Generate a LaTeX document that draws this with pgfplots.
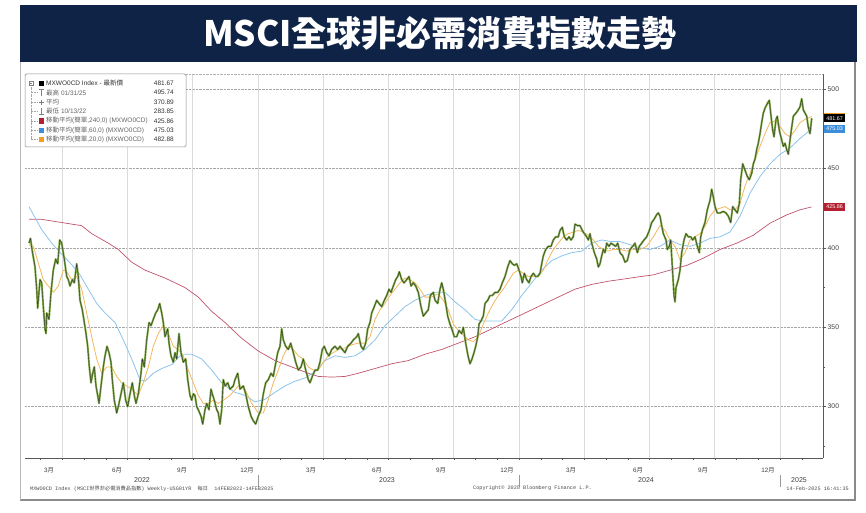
\documentclass[border=0pt]{standalone}
\usepackage{pgfplots}
\pgfplotsset{compat=1.18}
\usepackage{fontspec}
\setmainfont{Liberation Sans}
\newfontfamily\cjk{Noto Sans CJK TC}
\newfontfamily\monof{Liberation Mono}
\newcommand{\fs}[1]{\fontsize{#1}{#1}\selectfont}
\definecolor{navy}{HTML}{0F2346}
\definecolor{pricegreen}{HTML}{7AA63E}
\definecolor{mared}{HTML}{C2546B}
\definecolor{mablue}{HTML}{8CC4EC}
\definecolor{maorange}{HTML}{F4B860}
\definecolor{boxred}{HTML}{B3202F}
\definecolor{boxblue}{HTML}{3C8EDB}
\definecolor{boxorange}{HTML}{F39C1F}
\definecolor{frame}{HTML}{8A8A8A}

\pgfplotstableread{
x y
29 403
30.5 406
32 399
35 388
36.7 374
37.7 362
40 380
41.7 378
43.3 363
45 349
46 346
46.7 359
49 355
51 372
53.3 386
55.7 393
57.7 390
59.7 405
61.7 403
64.3 393
66.7 382
68.3 380
70 376
72.3 380
74.3 378
76.7 390
78.3 382
80 367
82.3 361
84.3 353
86 346
87.7 338
89.3 325
91 315
92.7 321
94.3 325
96 313
97.7 307
99 302
101 313
103.3 325
105 332
107 338
109 334
111 328
112.3 317
114.3 304
116.7 296
118.3 300
121 308
123.3 315
125.7 304
127.7 300
130 308
132.3 315
134.3 307
136 302
138.3 308
141 321
142.3 330
144.3 325
146.7 342
149 353
151 351
153.3 355
155.7 359
157.7 361
159.7 365
161.7 359
163.3 353
165 344
167.7 349
169 340
171 332
173.3 328
175 334
176.7 330
179 346
181 334
183.3 328
185.7 330
187.7 317
190 307
191.7 304
193.3 308
195 307
196.7 300
198.3 298
201 294
202.7 289
205 298
206.7 302
209 298
211 311
212.3 308
214.3 304
216.7 298
218.3 296
220 289
221.7 298
223.3 317
225 313
227.7 315
230 311
233.3 313
235 317
237.7 321
240 311
243.3 313
245.7 308
248.3 300
251 294
253.3 291
255.7 289
258.3 294
261 298
263.3 308
265.7 315
268.3 317
271 321
273.3 319
275 325
277.7 334
280 338
281.7 349
283.3 342
285.7 338
288.3 336
290.7 340
293.3 334
295.7 328
298.3 323
301 325
303.3 330
305.7 323
308.3 317
310 315
312.3 319
315 323
317.7 323
320 328
322.3 336
324.3 338
326.7 334
329 332
331.7 336
335 338
337.7 336
340 338
342.3 336
345 334
347.7 338
351 340
353.3 342
356.7 344
358.3 346
361 338
363.3 336
365.7 340
367.7 349
370 353
371.7 359
374.3 363
376.7 367
379 365
381.7 363
384.3 367
386.7 370
389 374
391 372
393.3 376
395.7 380
397.7 382
399.3 385
401.7 380
404 378
406.7 380
409 382
411 376
413.3 378
415.7 376
418.3 372
421 363
423.3 357
425.7 359
428.3 361
430.3 370
433.3 372
435 367
437.7 365
440 374
441.7 378
443.3 374
445.7 365
447.7 357
450 352
452.3 348
454.3 344
456.7 344
459 348
461.7 346
463.3 350
465.7 340
468 332
470 327
472 330
474 334
475.7 338
477.7 344
479 352
481 354
483.3 357
485 365
487.7 367
490 370
492.3 370
495 372
497.7 372
500 374
502.3 378
505 382
507.7 388
510 392
512.3 390
514.3 389
516.7 390
519 386
521 382
522.3 378
524.3 384
526.7 380
529 378
531 382
533.3 384
535.7 382
537.7 382
540 384
541.7 390
543.3 395
545.7 399
548.3 401
551 401
553.3 405
555.7 407
558.3 407
560 411
562.3 413
564.3 407
566.7 405
569 407
571 405
573.3 407
575 415
577.7 414
580 414
582.3 411
584.3 409
586.7 407
588.3 405
590 409
591.7 403
594.3 397
596.7 393
598.3 388
600 390
601.7 395
603.3 399
605 397
606.7 403
609 401
611 403
613.3 402
615.7 401
617.7 403
620 397
622.7 395
625 391
627.3 392
630 399
632.7 401
635 403
637.3 397
639.3 401
641.7 403
644 405
646.7 407
649.3 411
651.7 416
654 418
656.7 421
658.3 422
660 420
661.7 414
663.3 409
666 405
667.3 399
669.3 401
670.7 405
672.7 384
674 370
675 366
676 375
678.3 380
680 386
681.7 397
684 405
686 409
688.3 407
690.7 407
692.7 405
695 407
697.3 401
699.3 397
700.7 407
702.7 412
705 416
707.3 424
710 430
711.7 437
713.3 432
715 426
717.3 422
720 422
723.3 423
726 422
728.3 420
730.7 416
732.7 426
735 424
737.3 422
739.3 428
740.7 443
742.7 453
745 449
747.3 445
749.3 443
751.7 447
753.3 453
755 456
756.7 462
758.3 466
760 472
761.7 479
763.3 485
765 488
767.3 491
769.3 493
770.7 485
772.7 474
774 470
776 481
777.3 483
779.3 474
781.7 468
783.3 464
785 466
786.7 462
788.3 459
790 468
791.7 476
793.3 483
796 485
798.3 487
800 489
801.7 494
803.3 487
805 485
806.7 483
808.3 476
810 472
811.7 481.67
}\price

\pgfplotstableread{
x y
29 418
41.7 418
61.7 416
81.7 414
91.7 409
108.3 403
118.3 399
131.7 391
145 386
165 381
185 375
198.3 369
211.7 360
225 353
241.7 343
258.3 335
275 329
291.7 325
308.3 321
318.3 319
331.7 318.6
345 319
358.3 321
375 324
391.7 327
408.3 329
425 333
441.7 336
458.3 340
475 344
491.7 349
508.3 354
525 359
541.7 364
558.3 369
575 374
591.7 377
608.3 379
625 380.5
636.7 381.6
653.3 383
670 386
686.7 389
703.3 393.5
720 399
736.7 403
753.3 408
770 415.6
786.7 420.8
800 424
811.7 425.86
}\maA

\pgfplotstableread{
x y
29 426
41.7 411.5
51.7 403
61.7 396
71.7 389.5
80 383
88.3 374
96.7 365
105 359
115 353
123.3 342
131.7 330
140 317
145 316
153.3 321
161.7 324
171.7 326.5
181.7 333
191.7 333
201.7 330
211.7 323
221.7 315
230 311
235 309
245 307
255 303
265 304.6
275 309
285 313
295 316
305 318
315 322
325 329
335 332
345 331
355 332
365 336
375 342
385 351
395 357
405 363
415 367
425 370
435 372
445 372
455 366
465 361
475 355
481.7 354
491.7 354
501.7 354
511.7 361
521.7 370
531.7 378
541.7 386
551.7 392
561.7 395
571.7 397
581.7 398
591.7 403
601.7 405
611.7 404
620 404
630 402
640 400
650 399
660 401
670 405
680 402
690 401
700 403
710 406
720 407
730 410
740 420
750 434.5
760 445
770 453
780 459
790 463
800 469
811.7 475.03
}\maB

\pgfplotstableread{
x y
29 402
33.3 401
38.3 390.5
43.3 380
48.3 376
53.3 372
58.3 376
63.3 386
66.7 385
71.7 380
76.7 382
81.7 374
86.7 359
91.7 344
96.7 330
101.7 321
106.7 325
111.7 325
116.7 319
121.7 315
126.7 313
131.7 311
138.3 307
143.3 315
148.3 325
153.3 338
158.3 346
163.3 351
168.3 346
173.3 338
178.3 336
183.3 332
188.3 323
193.3 315
198.3 307
203.3 302
208.3 302
213.3 304
218.3 302
223.3 304
230 307
238.3 313
245 311
251.7 302
258.3 296
263.3 296
268.3 304.5
273.3 315
278.3 323
283.3 332
288.3 338
293.3 336
298.3 332
303.3 330
308.3 325
313.3 323
318.3 323
323.3 328
328.3 332
333.3 334
338.3 336
345 337
351.7 339
358.3 340
365 340
370 344
375 355
380 361
385 365
390 370
395 374
400 378
405 381
410 380
415 378
420 374
425 369
431 369
438 371
443.3 367
448.3 361
453.3 352
458.3 348
463.3 345
468.3 342
473.3 341
478.3 344
483.3 352
488.3 359
493.3 365
498.3 370
503.3 374
508.3 379
513.3 384
518.3 386
523.3 384
528.3 382
533.3 382
538.3 382
543.3 386
548.3 393
553.3 399
558.3 403
563.3 407
568.3 409
573.3 410
578.3 411
583.3 410
588.3 408
593.3 405
598.3 401
603.3 399
608.3 398
613.3 399
620 399
626.7 398
633.3 399
640 399
646.7 401
653.3 407
660 414
665 411
670 405
675 401
680 392.5
685 397
690 405
695 407
700 409
705 413.5
710 420
715 424
720 425
725 426
730 424
735 424
740 428
745 439
750 447
755 455.5
760 464
765 472
770 479
775 480
780 476.5
785 472
790 470
795 474
800 479
805 481
811.7 482.88
}\maC

\begin{document}
\begin{tikzpicture}[x=1pt,y=1pt]
\path[use as bounding box, fill=white] (0,0) rectangle (866,512);
% banner
\fill[navy] (20,450) rectangle (857,507);
\node[text=white, font=\cjk\bfseries\fs{35}] at (440,479) {MSCI全球非必需消費指數走勢};
% frame
\draw[frame, line width=1.6pt] (20,12) -- (855,12) -- (855,450);
\draw[frame!60, line width=0.8pt] (20,12) -- (20,450);

\begin{axis}[
  at={(25pt,54pt)}, anchor=south west,
  scale only axis, width=798pt, height=384pt,
  xmin=25, xmax=823, ymin=267.6, ymax=509.6,
  axis x line*=bottom, axis y line*=right,
  axis line style={black!65, line width=0.5pt},
  clip=false,
  tick align=outside,
  tick style={black!65, line width=0.5pt},
  major tick length=3pt, minor tick length=2.2pt,
  ytick={300,350,400,450,500},
  minor ytick={275,325,375,425,475},
  yticklabel style={font=\fs{6.8}, text=black!75, inner sep=1.5pt},
  /pgf/number format/assume math mode=true,
  ymajorgrids, major grid style={densely dotted, black!35, line width=0.45pt},
  xtick={49,117,182,247,311,377,441,507,571,638,703,768},
  xticklabels={3{\cjk 月},6{\cjk 月},9{\cjk 月},12{\cjk 月},3{\cjk 月},6{\cjk 月},9{\cjk 月},12{\cjk 月},3{\cjk 月},6{\cjk 月},9{\cjk 月},12{\cjk 月}},
  major x tick style={draw=none},
  xticklabel style={font=\fs{6.3}, text=black!75, inner sep=1pt, yshift=-5pt},
  minor xtick={40.5,62.25,84,105.75,127.5,149.25,171,192.75,214.5,236.25,258,279.75,301.5,323.25,345,366.75,388.5,410.25,432,453.75,475.5,497.25,519,540.75,562.5,584.25,606,627.75,649.5,671.25,693,714.75,736.5,758.25,780,801.75},
  extra x ticks={62.25,127.5,192.75,258,323.25,388.5,453.75,519,584.25,649.5,714.75,780},
  extra x tick labels={},
  extra x tick style={grid=major, major grid style={solid, black!14, line width=0.6pt}, major tick length=0pt},
]
\addplot[mared, line width=0.7pt] table {\maA};
\addplot[mablue, line width=0.8pt] table {\maB};
\addplot[maorange, line width=0.8pt] table {\maC};
\addplot[pricegreen, line width=1.9pt, line join=round] table {\price};
\addplot[black!80, line width=0.4pt, line join=round] table {\price};
\draw[densely dotted, black!30] (rel axis cs:0,1) -- (rel axis cs:1,1);
% value boxes
\node[fill=boxorange, anchor=west, inner sep=0pt, minimum width=20.8pt, minimum height=7.7pt] at (axis cs:824,482.88) {};
\node[fill=black, text=white, anchor=west, font=\fs{5.4}, inner xsep=2.2pt, inner ysep=0pt, minimum height=7.7pt] at (axis cs:824,481.67) {481.67};
\node[fill=boxblue, text=white, anchor=west, font=\fs{5.4}, inner xsep=2.2pt, inner ysep=0pt, minimum height=7.7pt] at (axis cs:824,475.03) {475.03};
\node[fill=boxred, text=white, anchor=west, font=\fs{5.4}, inner xsep=2.2pt, inner ysep=0pt, minimum height=7.7pt] at (axis cs:824,425.86) {425.86};
\end{axis}

% year separators and labels
\foreach \xx in {258,519,780} {\draw[black!40, line width=0.5pt] (\xx,25) -- (\xx,37);}
\foreach \xx/\yy in {142/2022,387/2023,646/2024,799/2025} {\node[font=\fs{7}, text=black!75] at (\xx,32) {\yy};}

% footer
\node[anchor=west, font=\monof\fs{5.2}, text=black!70, inner sep=0] at (30,23.5) {MXWO0CD Index (MSCI{\cjk 世界非必需消費品指數}) Weekly-USG01YR \ {\cjk 每日} \ 14FEB2022-14FEB2025};
\node[anchor=west, font=\monof\fs{5.2}, text=black!70, inner sep=0] at (473,23.5) {Copyright© 2025 Bloomberg Finance L.P.};
\node[anchor=east, font=\monof\fs{5.2}, text=black!70, inner sep=0] at (849,23.5) {14-Feb-2025 16:41:35};

% legend
\draw[black!45, fill=white, rounded corners=1.5pt, line width=0.5pt] (25,438) rectangle (186,365);
\draw[black!35, densely dotted] (31,426.7) -- (31,372.3);
\foreach \yy in {419.3,409.9,400.5,391.1,381.7,372.3} {\draw[black!35, densely dotted] (31,\yy) -- (37,\yy);}
\draw[black!50, fill=white] (29,426.7) rectangle (33,430.7);
\draw[black!50] (29.8,428.7) -- (32.2,428.7);
\fill[black] (38.5,425.9) rectangle (44,431.4);
\draw[black!50] (39,422.3) -- (44,422.3) (41.5,422.3) -- (41.5,416.3);
\draw[black!50] (39,409.9) -- (44,409.9) (41.5,407.4) -- (41.5,412.4);
\draw[black!50] (41.5,403.5) -- (41.5,397.5) (39,397.5) -- (44,397.5);
\fill[boxred] (38.5,388.35) rectangle (44,393.85);
\fill[boxblue] (38.5,378.95) rectangle (44,384.45);
\fill[boxorange] (38.5,369.55) rectangle (44,375.05);
\begin{scope}[every node/.style={inner sep=0, font=\fs{6.5}, text=black!80}]
\node[anchor=west] at (46,428.7) {MXWO0CD Index - {\cjk 最新價}};
\node[anchor=west, text=black!60] at (46,419.3) {{\cjk 最高} 01/31/25};
\node[anchor=west, text=black!60] at (46,409.9) {{\cjk 平均}};
\node[anchor=west, text=black!60] at (46,400.5) {{\cjk 最低} 10/13/22};
\node[anchor=west, text=black!60] at (46,391.1) {{\cjk 移動平均}({\cjk 簡單},240,0) (MXWO0CD)};
\node[anchor=west, text=black!60] at (46,381.7) {{\cjk 移動平均}({\cjk 簡單},60,0) (MXWO0CD)};
\node[anchor=west, text=black!60] at (46,372.3) {{\cjk 移動平均}({\cjk 簡單},20,0) (MXWO0CD)};
\node[anchor=east] at (174,428.7) {481.67};
\node[anchor=east] at (174,419.3) {495.74};
\node[anchor=east] at (174,409.9) {370.89};
\node[anchor=east] at (174,400.5) {283.85};
\node[anchor=east] at (174,391.1) {425.86};
\node[anchor=east] at (174,381.7) {475.03};
\node[anchor=east] at (174,372.3) {482.88};
\end{scope}
\end{tikzpicture}
\end{document}
